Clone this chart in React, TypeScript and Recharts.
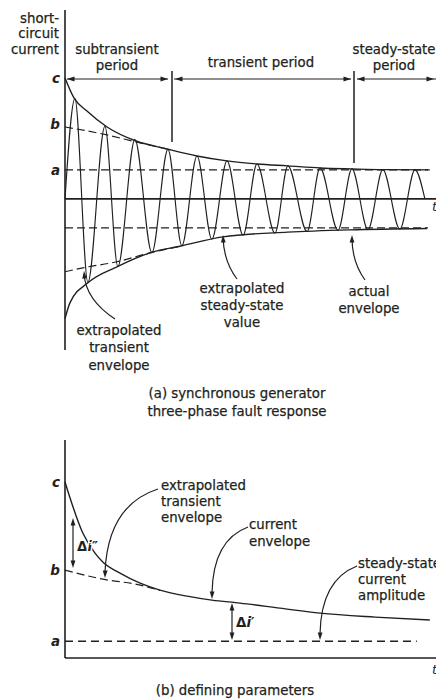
import React from 'react';
import { ComposedChart, Line, XAxis, YAxis, ReferenceLine } from 'recharts';

// ---------------- (a) three-phase fault response ----------------
// time in cycles, current in units of the initial peak c
const waveT = [0, 0.32, 0.74, 1.29, 1.71, 2.26, 2.81, 3.33, 3.78, 4.27, 4.75, 5.24, 5.76, 6.21, 6.79, 7.21, 7.83, 8.25, 8.83, 9.28, 9.8, 10.28, 10.83, 11.32, 11.64];
const waveI = [0, 0.83, -0.69, 0.6, -0.56, 0.49, -0.445, 0.41, -0.388, 0.355, -0.334, 0.314, -0.3, 0.289, -0.283, 0.273, -0.27, 0.256, -0.26, 0.248, -0.254, 0.242, -0.25, 0.24, 0];

const envTopT = [0, 0.29, 0.71, 1.36, 2.3, 3.3, 4.27, 5.24, 6.21, 7.21, 8.25, 9.28, 10.28, 11.74];
const envTopI = [1.0, 0.835, 0.727, 0.595, 0.479, 0.413, 0.355, 0.314, 0.289, 0.273, 0.256, 0.248, 0.242, 0.24];

const envBotT = [0, 0.16, 0.74, 1.68, 2.75, 3.78, 5.11, 7.2, 9.22, 11.71];
const envBotI = [-0.99, -0.86, -0.694, -0.562, -0.446, -0.388, -0.314, -0.275, -0.256, -0.245];

const transTopT = [0, 1.36, 2.3, 3.3];
const transTopI = [0.595, 0.529, 0.471, 0.413];
const transBotT = [0, 0.58, 1.68, 2.75, 3.78];
const transBotI = [-0.603, -0.57, -0.52, -0.446, -0.39];

const steadyTopT = [0, 11.8];
const steadyTopI = [0.24, 0.24];
const steadyBotT = [0, 11.74];
const steadyBotI = [-0.24, -0.24];

const ticksA = [0.24, 0.62, 1.0];
const tickNames = ['a', 'b', 'c'];

// ---------------- (b) defining parameters ----------------
const envBT = [0, 0.58, 0.97, 1.23, 1.78, 2.43, 3.07, 3.95, 4.75, 5.66, 6.95, 8.25, 10.03, 11.8];
const envBI = [1.0, 0.755, 0.66, 0.617, 0.565, 0.517, 0.484, 0.455, 0.436, 0.422, 0.398, 0.374, 0.355, 0.341];
const transBT = [0, 1.23, 2.43, 3.07];
const transBI = [0.579, 0.536, 0.508, 0.482];
const steadyBT = [0, 11.38];
const steadyBI = [0.24, 0.24];
const ticksB = [0.24, 0.579, 1.0];

const INK = '#231f20';
const FONT = '"DejaVu Sans", sans-serif';

type S = { t: number[]; v: number[] };
function merge(series: Record<string, S>) {
  const map = new Map<number, any>();
  Object.entries(series).forEach(([key, s]) => {
    s.t.forEach((t, i) => {
      const row = map.get(t) ?? { t };
      row[key] = s.v[i];
      map.set(t, row);
    });
  });
  return Array.from(map.values()).sort((a, b) => a.t - b.t);
}

const dataA = merge({
  wave: { t: waveT, v: waveI },
  envTop: { t: envTopT, v: envTopI },
  envBot: { t: envBotT, v: envBotI },
  transTop: { t: transTopT, v: transTopI },
  transBot: { t: transBotT, v: transBotI },
  steadyTop: { t: steadyTopT, v: steadyTopI },
  steadyBot: { t: steadyBotT, v: steadyBotI },
});

const dataB = merge({
  env: { t: envBT, v: envBI },
  trans: { t: transBT, v: transBI },
  steady: { t: steadyBT, v: steadyBI },
});

const makeTick = (ticks: number[]) => (props: any) => {
  const idx = ticks.findIndex((v) => Math.abs(v - props.payload.value) < 1e-6);
  return (
    <text x={60} y={props.y} textAnchor="end" dominantBaseline="central" fontFamily={FONT}
      fontSize={13.5} fontWeight="bold" fontStyle="italic" fill={INK}>
      {tickNames[idx] ?? ''}
    </text>
  );
};

function Head({ x, y, dx, dy, len = 7.5, w = 2.4 }: { x: number; y: number; dx: number; dy: number; len?: number; w?: number }) {
  const L = Math.hypot(dx, dy);
  const ux = dx / L, uy = dy / L;
  const bx = x - ux * len, by = y - uy * len;
  const px = -uy * w, py = ux * w;
  return <polygon points={`${x},${y} ${bx + px},${by + py} ${bx - px},${by - py}`} fill={INK} />;
}

function Lines({ x, y, lines, anchor = 'middle', gap = 16.5 }: { x: number; y: number; lines: string[]; anchor?: string; gap?: number }) {
  return (
    <>
      {lines.map((l, i) => (
        <text key={i} x={x} y={y + i * gap} textAnchor={anchor as any} dominantBaseline="central"
          fontFamily={FONT} fontSize={13.3} fill={INK} stroke={INK} strokeWidth={0.25}>{l}</text>
      ))}
    </>
  );
}

const lineProps = { dot: false, activeDot: false, isAnimationActive: false, connectNulls: true, type: 'monotone' as const, stroke: INK };

export default function App() {
  return (
    <div style={{ position: 'absolute', left: 0, top: 0, width: 436, height: 700, background: '#fff', overflow: 'hidden' }}>
      <div style={{ position: 'absolute', left: 0, top: 0 }}>
        <ComposedChart width={436} height={360} data={dataA} margin={{ top: 10, right: 0, bottom: 10, left: 0 }}>
          <XAxis type="number" dataKey="t" domain={[0, 12]} hide />
          <YAxis type="number" domain={[-1.25, 1.5625]} ticks={ticksA} width={65} tickLine={false}
            axisLine={{ stroke: INK, strokeWidth: 1.6 }} tick={makeTick(ticksA)} interval={0} allowDataOverflow />
          <ReferenceLine y={0} stroke={INK} strokeWidth={1.6} />
          <Line dataKey="steadyTop" {...lineProps} type="linear" strokeWidth={1.2} strokeDasharray="8 4" />
          <Line dataKey="steadyBot" {...lineProps} type="linear" strokeWidth={1.2} strokeDasharray="8 4" />
          <Line dataKey="transTop" {...lineProps} strokeWidth={1.2} strokeDasharray="8 4" />
          <Line dataKey="transBot" {...lineProps} strokeWidth={1.2} strokeDasharray="8 4" />
          <Line dataKey="wave" {...lineProps} strokeWidth={1.15} />
          <Line dataKey="envTop" {...lineProps} strokeWidth={1.4} />
          <Line dataKey="envBot" {...lineProps} strokeWidth={1.4} />
        </ComposedChart>
      </div>
      <div style={{ position: 'absolute', left: 0, top: 430 }}>
        <ComposedChart width={436} height={238} data={dataB} margin={{ top: 10, right: 0, bottom: 9, left: 0 }}>
          <XAxis type="number" dataKey="t" domain={[0, 12]} tick={false} tickLine={false} height={1}
            axisLine={{ stroke: INK, strokeWidth: 1.6 }} />
          <YAxis type="number" domain={[0.16, 1.2]} ticks={ticksB} width={65} tickLine={false}
            axisLine={{ stroke: INK, strokeWidth: 1.6 }} tick={makeTick(ticksB)} interval={0} allowDataOverflow />
          <Line dataKey="steady" {...lineProps} type="linear" strokeWidth={1.3} strokeDasharray="8 5" />
          <Line dataKey="trans" {...lineProps} strokeWidth={1.2} strokeDasharray="8 4" />
          <Line dataKey="env" {...lineProps} strokeWidth={1.4} />
        </ComposedChart>
      </div>
      <svg width={436} height={700} style={{ position: 'absolute', left: 0, top: 0, pointerEvents: 'none' }}>
        {/* (a) axis title */}
        <Lines x={59} y={18} lines={['short-', 'circuit', 'current']} anchor="end" gap={15.5} />
        {/* period headers */}
        <Lines x={117} y={49} lines={['subtransient', 'period']} gap={16.5} />
        <Lines x={261} y={62} lines={['transient period']} />
        <Lines x={394} y={49} lines={['steady-state', 'period']} gap={16.5} />
        {/* period arrows */}
        <g stroke={INK} strokeWidth={1.2}>
          <line x1={67} y1={79} x2={168} y2={79} />
          <line x1={174} y1={79} x2={351} y2={79} />
          <line x1={357} y1={79} x2={436} y2={79} />
          <line x1={172} y1={71} x2={172} y2={142} strokeWidth={1.5} />
          <line x1={354} y1={71} x2={354} y2={163} strokeWidth={1.5} />
        </g>
        <Head x={67} y={79} dx={-1} dy={0} />
        <Head x={168} y={79} dx={1} dy={0} />
        <Head x={175} y={79} dx={-1} dy={0} />
        <Head x={351} y={79} dx={1} dy={0} />
        <Head x={357} y={79} dx={-1} dy={0} />
        <Head x={434} y={79} dx={1} dy={0} />
        <text x={432} y={211} fontFamily={FONT} fontSize={13} fontStyle="italic" fill={INK}>t</text>
        {/* (a) leaders */}
        <g fill="none" stroke={INK} strokeWidth={1.2}>
          <path d="M115,319 Q86,300 84,274" />
          <path d="M237,279 Q224,262 223,238" />
          <path d="M365,280 Q352,262 352,238" />
        </g>
        <Head x={84} y={271} dx={-1} dy={-12} />
        <Head x={223} y={235} dx={-0.5} dy={-12} />
        <Head x={352} y={235} dx={0} dy={-1} />
        <Lines x={119} y={330} lines={['extrapolated', 'transient', 'envelope']} gap={17.5} />
        <Lines x={242} y={288} lines={['extrapolated', 'steady-state', 'value']} gap={17} />
        <Lines x={369} y={291} lines={['actual', 'envelope']} gap={17} />
        <Lines x={237} y={393} lines={['(a) synchronous generator', 'three-phase fault response']} gap={18} />

        {/* (b) annotations */}
        <g fill="none" stroke={INK} strokeWidth={1.2}>
          <line x1={73} y1={521} x2={73} y2={565} />
          <line x1={232} y1={606} x2={232} y2={638} />
          <path d="M158,489 Q108,505 105,572" />
          <path d="M248,527 Q213,540 212,593" />
          <path d="M357,566 Q321,580 320,634" />
        </g>
        <Head x={73} y={518} dx={0} dy={-1} />
        <Head x={73} y={568} dx={0} dy={1} />
        <Head x={232} y={603} dx={0} dy={-1} />
        <Head x={232} y={640} dx={0} dy={1} />
        <Head x={105} y={578} dx={-0.3} dy={12} />
        <Head x={212} y={599} dx={-0.2} dy={12} />
        <Head x={320} y={640} dx={-0.2} dy={12} />
        <text x={77} y={546} dominantBaseline="central" fontFamily={FONT} fontSize={13.5} fontWeight="bold" fill={INK}
          stroke="#fff" strokeWidth={3} paintOrder="stroke">
          Δ<tspan fontStyle="italic">i</tspan>″
        </text>
        <text x={236} y={622} dominantBaseline="central" fontFamily={FONT} fontSize={13.5} fontWeight="bold" fill={INK}>
          Δ<tspan fontStyle="italic">i</tspan>′
        </text>
        <Lines x={161} y={485} lines={['extrapolated', 'transient', 'envelope']} anchor="start" gap={16} />
        <Lines x={249} y={524} lines={['current', 'envelope']} anchor="start" gap={17} />
        <Lines x={358} y={563} lines={['steady-state', 'current', 'amplitude']} anchor="start" gap={16} />
        <text x={432} y={674} fontFamily={FONT} fontSize={13} fontStyle="italic" fill={INK}>t</text>
        <Lines x={235} y={690} lines={['(b) defining parameters']} />
      </svg>
    </div>
  );
}
